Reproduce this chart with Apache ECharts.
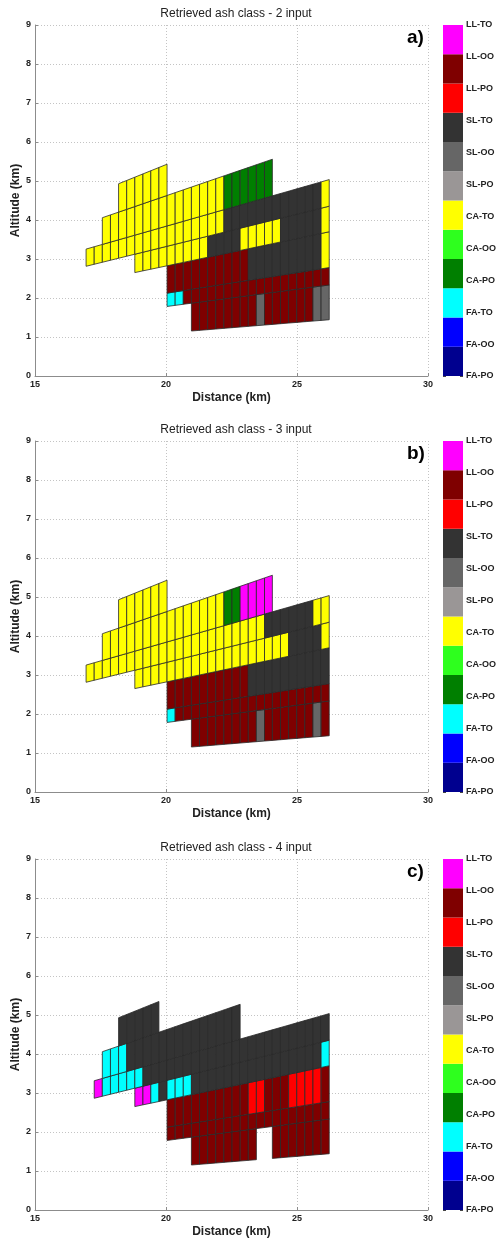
<!DOCTYPE html>
<html>
<head>
<meta charset="utf-8">
<script src="https://cdn.jsdelivr.net/npm/echarts@6/dist/echarts.min.js"></script>
<style>
  html, body { margin: 0; padding: 0; background: #fff; }
  #chart { width: 496px; height: 1241px; }
</style>
</head>
<body>
<div id="chart"></div>
<script>
// ash classes, bottom to top of the colour bar
const classNames = ['FA-PO', 'FA-OO', 'FA-TO', 'CA-PO', 'CA-OO', 'CA-TO',
  'SL-PO', 'SL-OO', 'SL-TO', 'LL-PO', 'LL-OO', 'LL-TO']
const classColors = ['#00008f', '#0000ff', '#00ffff', '#007f00', '#2eff1e', '#ffff00',
  '#9a9696', '#666666', '#333333', '#ff0000', '#7f0000', '#ff00ff']

// range gate edges (km)
const gateEdges = [16.95, 17.26, 17.57, 17.88, 18.19, 18.50, 18.81, 19.12, 19.42, 19.73,
  20.04, 20.35, 20.66, 20.97, 21.28, 21.59, 21.90, 22.21, 22.52, 22.83,
  23.14, 23.45, 23.76, 24.06, 24.37, 24.68, 24.99, 25.30, 25.61, 25.92, 26.23]

// beam boundary slopes (altitude / distance), lowest first
const beamSlopes = [0.055, 0.089, 0.106, 0.141, 0.166, 0.192, 0.231, 0.271]

// runs of cells: [beam row, first gate, last gate, class]
const runs2Input = [
  [0, 13, 20, 'LL-OO'], [0, 21, 21, 'SL-OO'], [0, 22, 27, 'LL-OO'], [0, 28, 29, 'SL-OO'],
  [1, 10, 11, 'FA-TO'], [1, 12, 29, 'LL-OO'],
  [2, 10, 19, 'LL-OO'], [2, 20, 28, 'SL-TO'], [2, 29, 29, 'CA-TO'],
  [3, 6, 14, 'CA-TO'], [3, 15, 18, 'SL-TO'], [3, 19, 23, 'CA-TO'], [3, 24, 28, 'SL-TO'], [3, 29, 29, 'CA-TO'],
  [4, 0, 16, 'CA-TO'], [4, 17, 28, 'SL-TO'], [4, 29, 29, 'CA-TO'],
  [5, 2, 16, 'CA-TO'], [5, 17, 22, 'CA-PO'],
  [6, 4, 9, 'CA-TO']
]
const runs3Input = [
  [0, 13, 20, 'LL-OO'], [0, 21, 21, 'SL-OO'], [0, 22, 27, 'LL-OO'], [0, 28, 28, 'SL-OO'], [0, 29, 29, 'LL-OO'],
  [1, 10, 10, 'FA-TO'], [1, 11, 29, 'LL-OO'],
  [2, 10, 19, 'LL-OO'], [2, 20, 29, 'SL-TO'],
  [3, 6, 24, 'CA-TO'], [3, 25, 28, 'SL-TO'], [3, 29, 29, 'CA-TO'],
  [4, 0, 21, 'CA-TO'], [4, 22, 27, 'SL-TO'], [4, 28, 29, 'CA-TO'],
  [5, 2, 16, 'CA-TO'], [5, 17, 18, 'CA-PO'], [5, 19, 22, 'LL-TO'],
  [6, 4, 9, 'CA-TO']
]
const runs4Input = [
  [0, 13, 20, 'LL-OO'], [0, 23, 29, 'LL-OO'],
  [1, 10, 29, 'LL-OO'],
  [2, 10, 19, 'LL-OO'], [2, 20, 21, 'LL-PO'], [2, 22, 24, 'LL-OO'], [2, 25, 28, 'LL-PO'], [2, 29, 29, 'LL-OO'],
  [3, 6, 7, 'LL-TO'], [3, 8, 8, 'FA-TO'], [3, 9, 9, 'SL-TO'], [3, 10, 12, 'FA-TO'], [3, 13, 28, 'SL-TO'], [3, 29, 29, 'FA-TO'],
  [4, 1, 1, 'LL-TO'], [4, 2, 6, 'FA-TO'], [4, 7, 29, 'SL-TO'],
  [5, 2, 4, 'FA-TO'], [5, 5, 18, 'SL-TO'],
  [6, 4, 8, 'SL-TO']
]

const panelTitles = ['Retrieved ash class - 2 input', 'Retrieved ash class - 3 input', 'Retrieved ash class - 4 input']
const panelLetters = ['a)', 'b)', 'c)']
const panelRuns = [runs2Input, runs3Input, runs4Input]
const panelTops = [25, 441, 859]

const FONT = 'Liberation Sans, Arial, Helvetica, sans-serif'
const plotH = 351

function cellsFromRuns(runs) {
  const out = []
  runs.forEach(([row, g0, g1, cls]) => {
    for (let g = g0; g <= g1; g++) {
      out.push([gateEdges[g], gateEdges[g + 1], beamSlopes[row], beamSlopes[row + 1], classNames.indexOf(cls)])
    }
  })
  return out
}

// one range gate of one beam -> slanted quad
function renderCell(params, api) {
  const x0 = api.value(0), x1 = api.value(1)
  const kLo = api.value(2), kHi = api.value(3)
  const pts = [
    api.coord([x0, kLo * x0]),
    api.coord([x1, kLo * x1]),
    api.coord([x1, kHi * x1]),
    api.coord([x0, kHi * x0])
  ]
  return {
    type: 'polygon',
    shape: { points: pts },
    style: { fill: classColors[api.value(4)], stroke: '#2a2a2a', lineWidth: 0.8 }
  }
}

function renderBlock(params, api) {
  const i = api.value(0)
  const p0 = api.coord([0, i])
  const p1 = api.coord([1, i + 1])
  return {
    type: 'rect',
    shape: { x: p0[0], y: p1[1], width: p1[0] - p0[0], height: p0[1] - p1[1] },
    style: { fill: classColors[i] }
  }
}

const grid = [], xAxis = [], yAxis = [], series = [], title = [], graphic = []

panelTops.forEach((top, p) => {
  grid.push({ left: 35, top: top, width: 393, height: plotH, outerBoundsMode: 'none', containLabel: false })
  title.push({
    text: panelTitles[p], left: 231, top: top - 22, textAlign: 'center',
    textStyle: { fontFamily: FONT, fontSize: 12, fontWeight: 'normal', color: '#222' }
  })
  graphic.push({
    type: 'text', left: 407, top: top + 3,
    style: { text: panelLetters[p], font: 'bold 19px ' + FONT, fill: '#000' }
  })
  xAxis.push({
    type: 'value', gridIndex: p, min: 15, max: 30, interval: 5,
    name: 'Distance (km)', nameLocation: 'middle', nameGap: 16, nameMoveOverlap: false,
    nameTextStyle: { fontFamily: FONT, fontSize: 12, fontWeight: 'bold', color: '#222' },
    axisLine: { show: true, lineStyle: { color: '#8c8c8c', width: 1 } },
    axisTick: { show: true, inside: true, length: 3, lineStyle: { color: '#8c8c8c' } },
    axisLabel: { fontFamily: FONT, fontSize: 9, fontWeight: 'bold', color: '#222', margin: 4 },
    splitLine: { show: true, lineStyle: { color: '#c4c4c4', type: [1, 2], width: 1 } }
  })
  yAxis.push({
    type: 'value', gridIndex: p, min: 0, max: 9, interval: 1,
    name: 'Altitude (km)', nameLocation: 'middle', nameGap: 13, nameMoveOverlap: false,
    nameTextStyle: { fontFamily: FONT, fontSize: 12, fontWeight: 'bold', color: '#222' },
    axisLine: { show: true, lineStyle: { color: '#8c8c8c', width: 1 } },
    axisTick: { show: true, inside: true, length: 3, lineStyle: { color: '#8c8c8c' } },
    axisLabel: { fontFamily: FONT, fontSize: 9, fontWeight: 'bold', color: '#222', margin: 4 },
    splitLine: { show: true, lineStyle: { color: '#c4c4c4', type: [1, 2], width: 1 } }
  })
  series.push({
    type: 'custom', xAxisIndex: p, yAxisIndex: p,
    renderItem: renderCell, data: cellsFromRuns(panelRuns[p]),
    encode: { x: [0, 1] }, silent: true, animation: false
  })
})

// colour bars
panelTops.forEach((top, p) => {
  const gi = 3 + p
  grid.push({ left: 443, top: top, width: 20, height: plotH, outerBoundsMode: 'none', containLabel: false })
  xAxis.push({ type: 'value', gridIndex: gi, min: 0, max: 1, show: false })
  // block scale
  yAxis.push({ type: 'value', gridIndex: gi, min: 0, max: 12, show: false })
  series.push({
    type: 'custom', xAxisIndex: gi, yAxisIndex: yAxis.length - 1,
    renderItem: renderBlock, data: classNames.map((n, i) => [i]),
    silent: true, animation: false
  })
})
panelTops.forEach((top, p) => {
  const gi = 3 + p
  // labels on the right
  yAxis.push({
    type: 'value', gridIndex: gi, min: 0, max: 11, interval: 1, position: 'right',
    axisLine: { show: false },
    axisTick: { show: true, inside: true, length: 3, lineStyle: { color: '#444' } },
    axisLabel: {
      fontFamily: FONT, fontSize: 9, fontWeight: 'bold', color: '#222', margin: 3,
      formatter: v => classNames[v]
    },
    splitLine: { show: false }
  })
  // ticks on the left
  yAxis.push({
    type: 'value', gridIndex: gi, min: 0, max: 11, interval: 1, position: 'left',
    axisLine: { show: false },
    axisTick: { show: true, inside: true, length: 3, lineStyle: { color: '#444' } },
    axisLabel: { show: false },
    splitLine: { show: false }
  })
})

const chart = echarts.init(document.getElementById('chart'), null, { renderer: 'canvas' })
chart.setOption({
  animation: false,
  backgroundColor: '#fff',
  title, grid, xAxis, yAxis, series, graphic
})
</script>
</body>
</html>
